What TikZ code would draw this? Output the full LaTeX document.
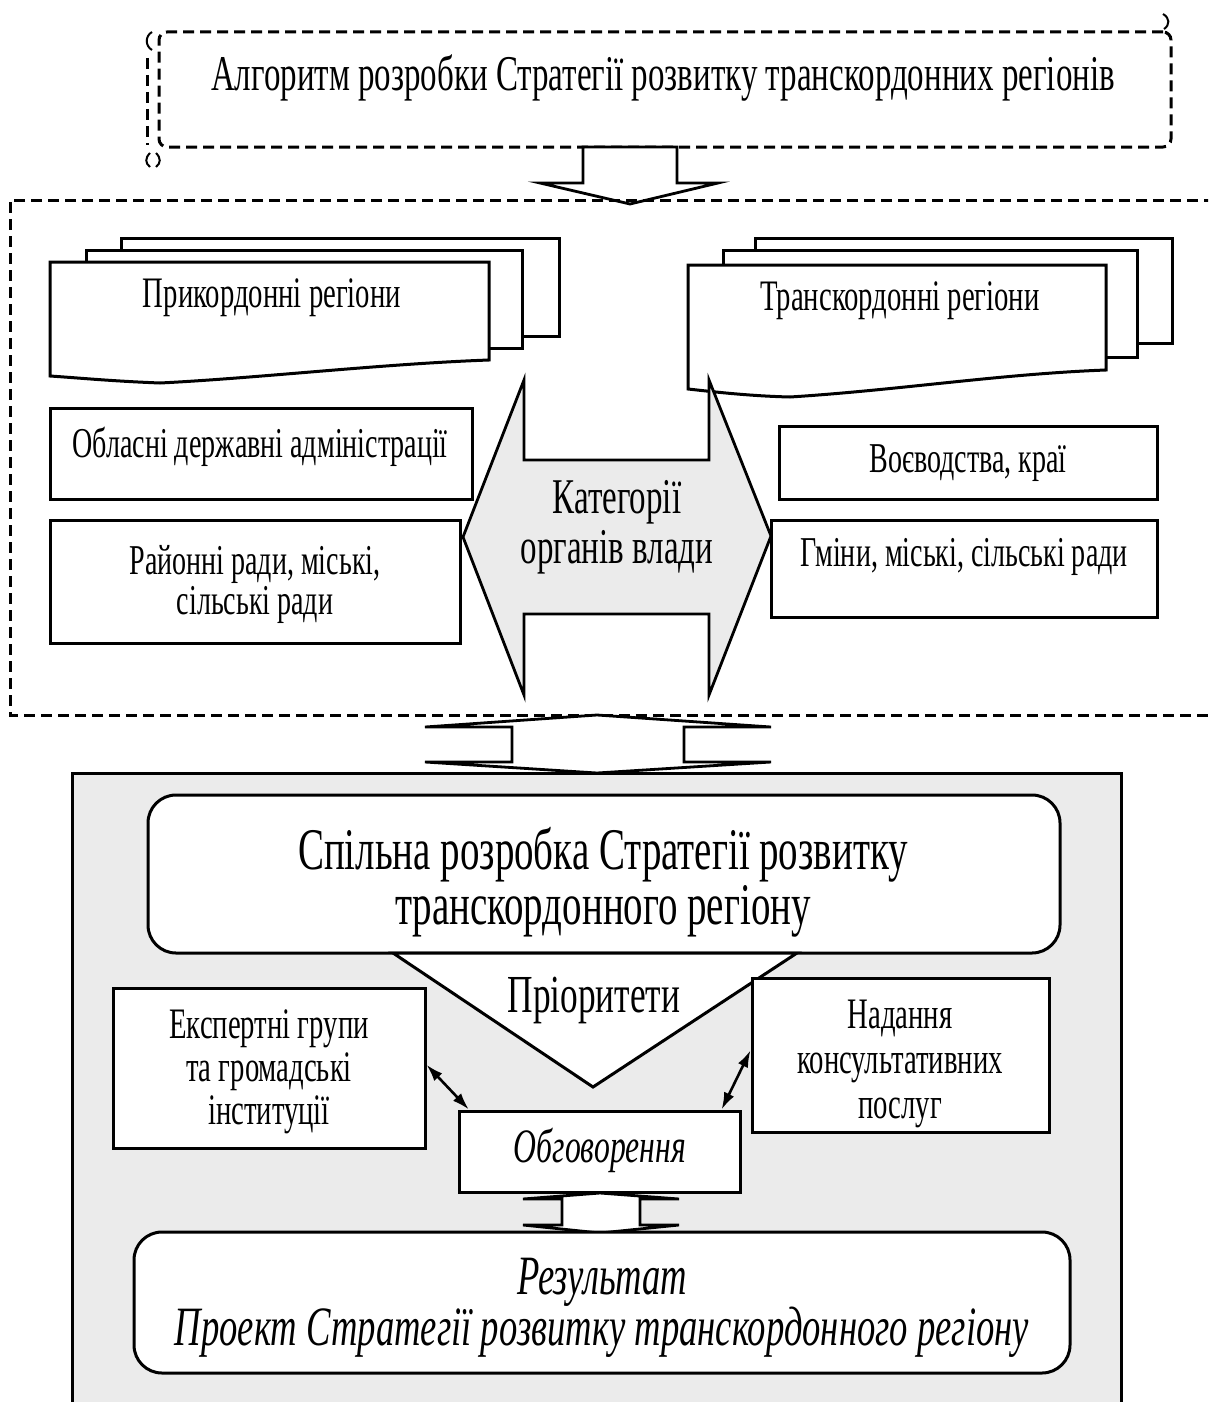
\documentclass[tikz,border=0pt]{standalone}
\usepackage{fontspec}
\setmainfont{Liberation Serif}[FakeStretch=0.66]
\usetikzlibrary{arrows.meta,calc}
\newcommand{\fsz}[2]{\fontsize{#1}{#2}\selectfont}
\tikzset{
  box/.style={draw, line width=3pt, fill=white, rectangle, inner sep=0pt},
  rbox/.style={box, rounded corners=28pt},
  dashline/.style={draw, line width=3pt, dash pattern=on 11pt off 6pt},
  blockarrow/.style={draw, line width=2.8pt, fill=white, line join=miter},
  dbl/.style={line width=2.6pt, {Latex[length=17pt,width=11pt]}-{Latex[length=17pt,width=11pt]}},
  txt/.style={inner sep=0pt, align=center},
  shade/.style={fill=black!8},
}
\begin{document}
\begin{tikzpicture}[x=1pt,y=-1pt]
\useasboundingbox (0,0) rectangle (1208,1402);
\clip (0,0) rectangle (1208,1402);
\fill[white] (0,0) rectangle (1208,1402);

% ---------- title ----------
\node[dashline, rounded corners=8pt, minimum width=1012pt, minimum height=115pt, inner sep=0pt] (title) at (665,89.5) {};
\node[txt, font=\fsz{50}{54}] (titletxt) at (663,78) {Алгоритм розробки Стратегії розвитку транскордонних регіонів};
\draw[dashline] (147,58) -- (147,145);
\draw[line width=2pt] (152,32) .. controls (145,36) and (145,46) .. (152,50);
\draw[line width=2pt] (150,153) .. controls (145,158) and (145,163) .. (150,167);
\draw[line width=2pt] (156,153) .. controls (161,158) and (161,163) .. (156,167);
\draw[line width=2pt] (1163,14) .. controls (1170,18) and (1170,25) .. (1164,29);

% arrow title -> middle
\draw[blockarrow] (583,147) -- (677,147) -- (677,183) -- (718,183) -- (630,204) -- (540,183) -- (583,183) -- cycle;

% ---------- middle dashed region ----------
\draw[dashline] (1215,200) -- (10,200) -- (10,715) -- (1215,715);

% left multi-document
\draw[box] (121,238) rectangle (559,336);
\draw[box] (86,250) rectangle (522,348);
\draw[box] (50,262) -- (489,262) -- (489,360)
   .. controls (380,364) and (260,378) .. (160,383)
   .. controls (110,381) and (80,378) .. (50,376) -- cycle;
\node[txt, font=\fsz{43.5}{46}] (docL) at (272,298) {Прикордонні регіони};

% right multi-document
\draw[box] (755,238) rectangle (1172,343);
\draw[box] (723,250) rectangle (1137,357);
\draw[box] (688,265) -- (1106,265) -- (1106,370)
   .. controls (1000,374) and (900,390) .. (790,397)
   .. controls (750,396) and (715,392) .. (688,389) -- cycle;
\node[txt, font=\fsz{43.5}{46}] (docR) at (900,301) {Транскордонні регіони};

% boxes
\node[box, minimum width=422pt, minimum height=91pt] (obl) at (261,453.5) {};
\node[txt, font=\fsz{42.5}{40}] at (260,447) {Обласні державні адміністрації};
\node[box, minimum width=410pt, minimum height=123pt] (ray) at (255,581.5) {};
\node[txt, font=\fsz{42.5}{40}] at (255,584) {Районні ради, міські,\\сільські ради};
\node[box, minimum width=378pt, minimum height=73pt] (voe) at (968,462.5) {};
\node[txt, font=\fsz{42.5}{40}] at (968,463) {Воєводства, краї};
\node[box, minimum width=386pt, minimum height=97pt] (gmi) at (964,568.5) {};
\node[txt, font=\fsz{42.5}{40}] at (964,557) {Гміни, міські, сільські ради};

% big double arrow
\draw[line width=2.8pt, shade, line join=miter]
  (524,380) -- (524,460) -- (709,460) -- (709,380) -- (771,536) -- (709,695)
  -- (709,614) -- (524,614) -- (524,695) -- (463,537) -- cycle;
\node[txt, font=\fsz{50}{50}] (kat) at (617,527) {Категорії\\органів влади};

% ---------- bottom region ----------
\draw[line width=3pt, shade] (72,773) rectangle (1121,1430);

% arrow middle -> bottom
\draw[blockarrow] (597,715) -- (771,727) -- (684,727) -- (684,762) -- (771,762) -- (597,773)
  -- (425,762) -- (512,762) -- (512,727) -- (425,727) -- cycle;

\node[rbox, minimum width=912pt, minimum height=158pt] (sp) at (604,874) {};
\node[txt, font=\fsz{59}{55}] at (603,882) {Спільна розробка Стратегії розвитку\\транскордонного регіону};

\draw[box] (393,953) -- (797,953) -- (593,1087) -- cycle;
\node[txt, font=\fsz{53.5}{50}] (pri) at (594,1000) {Пріоритети};

\node[box, minimum width=312pt, minimum height=160pt] (exp) at (269,1068) {};
\node[txt, font=\fsz{43.5}{43}] at (269,1072) {Експертні групи\\та громадські\\інституції};
\node[box, minimum width=297pt, minimum height=154pt] (nad) at (900.5,1055) {};
\node[txt, font=\fsz{43.5}{45}] at (900,1064) {Надання\\консультативних\\послуг};

\node[box, minimum width=281pt, minimum height=81pt] (obg) at (599.5,1151.5) {};
\node[txt, font=\fsz{48}{46}\itshape] at (600,1150) {Обговорення};

\draw[dbl] ($(exp.north east)!0.48!(exp.south east)$) -- ($(obg.north west)!0.04!(obg.north east)$);
\draw[dbl] ($(nad.north west)!0.47!(nad.south west)$) -- ($(obg.north west)!0.93!(obg.north east)$);

% arrow obg -> result
\draw[blockarrow] (600,1193) -- (679,1199) -- (640,1199) -- (640,1225) -- (679,1225) -- (600,1233)
  -- (523,1225) -- (562,1225) -- (562,1199) -- (523,1199) -- cycle;

\node[rbox, minimum width=936pt, minimum height=141pt] (res) at (602,1302.5) {};
\node[txt, font=\fsz{55.5}{50}\itshape] at (602,1308) {Результат\\Проект Стратегії розвитку транскордонного регіону};
\end{tikzpicture}
\end{document}
